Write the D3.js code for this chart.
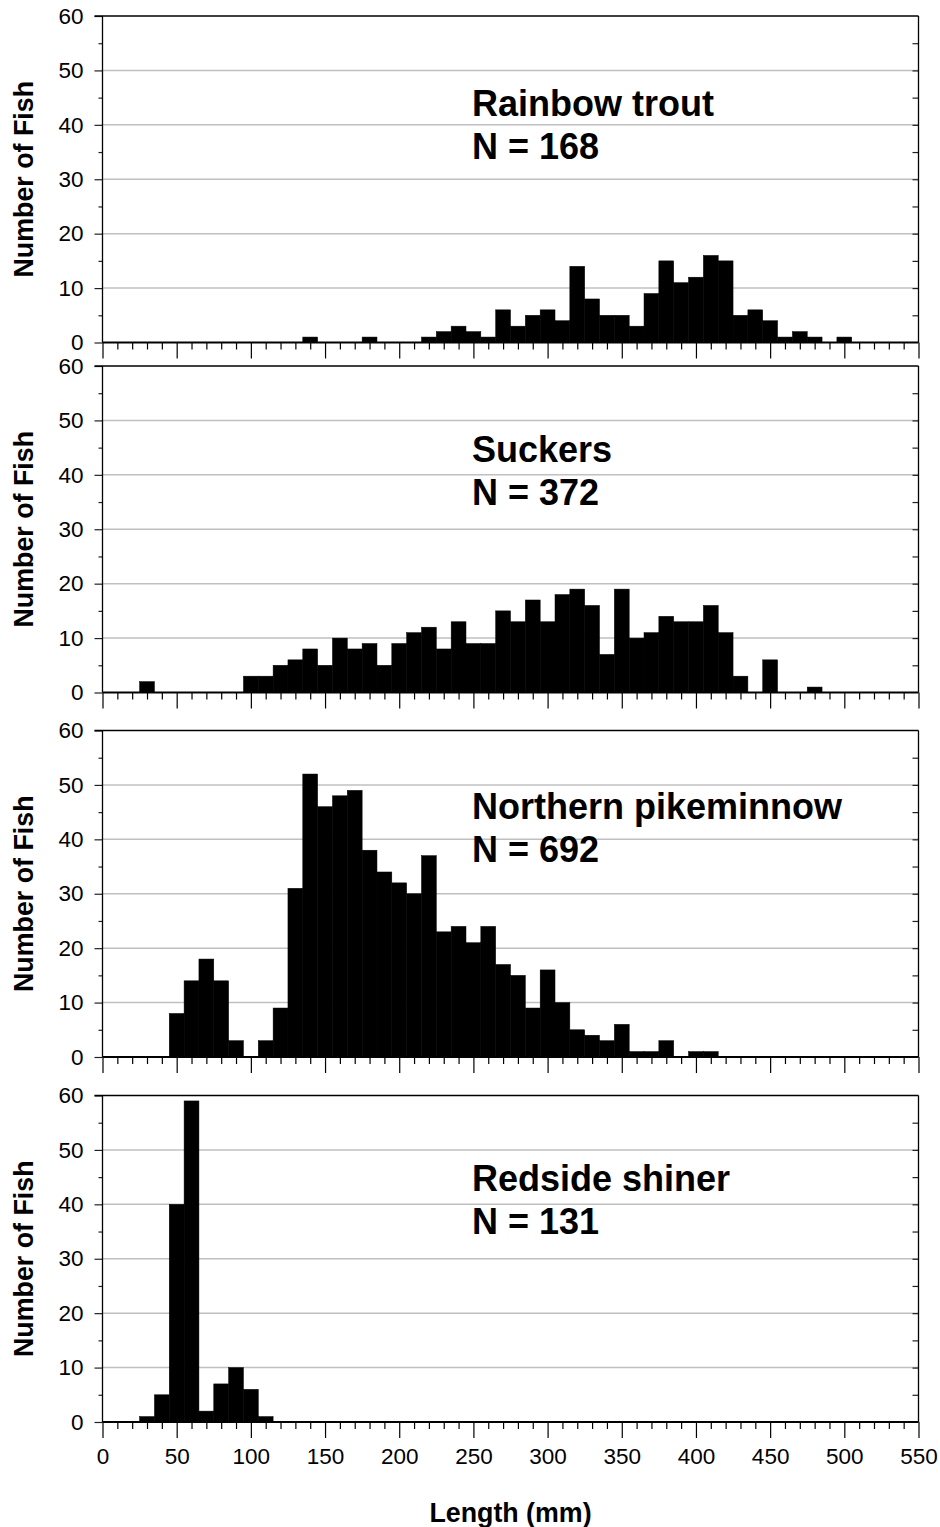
<!DOCTYPE html>
<html><head><meta charset="utf-8">
<script src="https://cdn.jsdelivr.net/npm/d3@7/dist/d3.min.js"></script>
<style>
body{margin:0;background:#fff}
svg{display:block}
text{font-family:"Liberation Sans",Arial,Helvetica,sans-serif;fill:#000}
</style>
</head><body>
<svg id="chart" width="940" height="1527"></svg>
<script>
// ---------- DATA ----------
const speciesNames = ["Rainbow trout", "Suckers", "Northern pikeminnow", "Redside shiner"];
const sampleSizes = [168, 372, 692, 131];

const troutLengths = [140,180,220,230,240,250,260,270,280,290,300,310,320,330,340,350,360,370,380,390,400,410,420,430,440,450,460,470,480,500];
const troutCounts  = [1,  1,  1,  2,  3,  2,  1,  6,  3,  5,  6,  4,  14, 8,  5,  5,  3,  9,  15, 11, 12, 16, 15, 5,  6,  4,  1,  2,  1,  1];

const suckerLengths = [30,100,110,120,130,140,150,160,170,180,190,200,210,220,230,240,250,260,270,280,290,300,310,320,330,340,350,360,370,380,390,400,410,420,430,450,480];
const suckerCounts  = [2, 3,  3,  5,  6,  8,  5,  10, 8,  9,  5,  9,  11, 12, 8,  13, 9,  9,  15, 13, 17, 13, 18, 19, 16, 7,  19, 10, 11, 14, 13, 13, 16, 11, 3,  6,  1];

const pikeLengths = [50,60,70,80,90,110,120,130,140,150,160,170,180,190,200,210,220,230,240,250,260,270,280,290,300,310,320,330,340,350,360,370,380,400,410];
const pikeCounts  = [8, 14,18,14,3, 3,  9,  31, 52, 46, 48, 49, 38, 34, 32, 30, 37, 23, 24, 21, 24, 17, 15, 9,  16, 10, 5,  4,  3,  6,  1,  1,  3,  1,  1];

const shinerLengths = [30,40,50,60,70,80,90,100,110];
const shinerCounts  = [1, 5, 40,59,2, 7, 10,6,  1];

const xTickLabels = [0,50,100,150,200,250,300,350,400,450,500,550];
const yTickLabels = [0,10,20,30,40,50,60];
const xAxisTitle = "Length (mm)";
const yAxisTitle = "Number of Fish";

// ---------- LAYOUT ----------
const binWidth = 10;
const panelTops = [16, 366, 730.5, 1095.5];
const panelHeight = 326.5;
const labelOffsets = [100, 96, 88, 95];
const plotLeft = 102.5, plotRight = 918.5;
const labelX = 472;

const series = [
  {lengths: troutLengths, counts: troutCounts},
  {lengths: suckerLengths, counts: suckerCounts},
  {lengths: pikeLengths, counts: pikeCounts},
  {lengths: shinerLengths, counts: shinerCounts}
];

const svg = d3.select("#chart");
const x = d3.scaleLinear().domain([0, 550]).range([plotLeft, plotRight]);
const xMinor = d3.range(0, 551, 10);

series.forEach((s, i) => {
  const top = panelTops[i];
  const y = d3.scaleLinear().domain([0, 60]).range([top + panelHeight, top]);
  const g = svg.append("g");

  // gridlines
  g.append("g").selectAll("line").data(yTickLabels.filter(v => v > 0 && v < 60)).join("line")
    .attr("x1", plotLeft).attr("x2", plotRight)
    .attr("y1", d => y(d)).attr("y2", d => y(d))
    .attr("stroke", "#c0c0c0").attr("stroke-width", 1.5);

  // bars
  const data = s.lengths.map((l, k) => ({len: l, n: s.counts[k]}));
  g.append("g").selectAll("rect").data(data).join("rect")
    .attr("x", d => x(d.len - binWidth / 2))
    .attr("width", d => x(d.len + binWidth / 2) - x(d.len - binWidth / 2))
    .attr("y", d => y(d.n))
    .attr("height", d => y(0) - y(d.n))
    .attr("fill", "#000").attr("stroke", "#000").attr("stroke-width", 0.5);

  // left axis major / minor
  const leftMajor = g.append("g").attr("transform", `translate(${plotLeft},0)`)
    .call(d3.axisLeft(y).tickValues(yTickLabels).tickSize(8).tickPadding(11));
  leftMajor.select(".domain").remove();
  leftMajor.selectAll("line").attr("stroke", "#222").attr("stroke-width", 1.2);
  leftMajor.selectAll("text").attr("font-size", 22.5).attr("font-family", "Liberation Sans, Arial, sans-serif").attr("fill", "#000");
  const leftMinor = g.append("g").attr("transform", `translate(${plotLeft},0)`)
    .call(d3.axisLeft(y).tickValues(d3.range(5, 60, 10)).tickSize(4).tickFormat(""));
  leftMinor.select(".domain").remove();
  leftMinor.selectAll("line").attr("stroke", "#222").attr("stroke-width", 1.2);

  // right axis inward ticks
  const right = g.append("g").attr("transform", `translate(${plotRight},0)`)
    .call(d3.axisLeft(y).tickValues(d3.range(5, 60, 5)).tickSize(-6).tickFormat(""));
  right.select(".domain").remove();
  right.selectAll("line").attr("stroke", "#222").attr("stroke-width", 1.2).attr("x2", -6);

  // bottom x ticks
  const bottomMinor = g.append("g").attr("transform", `translate(0,${y(0)})`)
    .call(d3.axisBottom(x).tickValues(xMinor.filter(v => v % 50 !== 0)).tickSize(7).tickFormat(""));
  bottomMinor.select(".domain").remove();
  bottomMinor.selectAll("line").attr("stroke", "#000").attr("stroke-width", 1.2);
  const bottomMajor = g.append("g").attr("transform", `translate(0,${y(0)})`)
    .call(d3.axisBottom(x).tickValues(xTickLabels).tickSize(16).tickPadding(10)
      .tickFormat(i === series.length - 1 ? d3.format("d") : ""));
  bottomMajor.select(".domain").remove();
  bottomMajor.selectAll("line").attr("stroke", "#000").attr("stroke-width", 1.2);
  bottomMajor.selectAll("text").attr("font-size", 22.5).attr("font-family", "Liberation Sans, Arial, sans-serif").attr("fill", "#000");

  // frame
  g.append("line").attr("x1", plotLeft - 8).attr("x2", plotRight).attr("y1", y(60)).attr("y2", y(60))
    .attr("stroke", "#000").attr("stroke-width", 1.3);
  g.append("line").attr("x1", plotLeft).attr("x2", plotLeft).attr("y1", y(60)).attr("y2", y(0))
    .attr("stroke", "#000").attr("stroke-width", 1.3);
  g.append("line").attr("x1", plotRight).attr("x2", plotRight).attr("y1", y(60)).attr("y2", y(0))
    .attr("stroke", "#000").attr("stroke-width", 1.3);
  g.append("line").attr("x1", plotLeft).attr("x2", plotRight).attr("y1", y(0)).attr("y2", y(0))
    .attr("stroke", "#000").attr("stroke-width", 2.2);

  // y title
  g.append("text")
    .attr("transform", `translate(33,${(y(0) + y(60)) / 2}) rotate(-90)`)
    .attr("text-anchor", "middle").attr("font-weight", "bold").attr("font-size", 26.8)
    .text(yAxisTitle);

  // species label
  const lt = top + labelOffsets[i];
  g.append("text").attr("x", labelX).attr("y", lt)
    .attr("font-weight", "bold").attr("font-size", 36).text(speciesNames[i]);
  g.append("text").attr("x", labelX).attr("y", lt + 43)
    .attr("font-weight", "bold").attr("font-size", 36).text("N = " + sampleSizes[i]);
});

svg.append("text").attr("x", (plotLeft + plotRight) / 2).attr("y", 1522)
  .attr("text-anchor", "middle").attr("font-weight", "bold").attr("font-size", 26.8)
  .text(xAxisTitle);
</script>
</body></html>
